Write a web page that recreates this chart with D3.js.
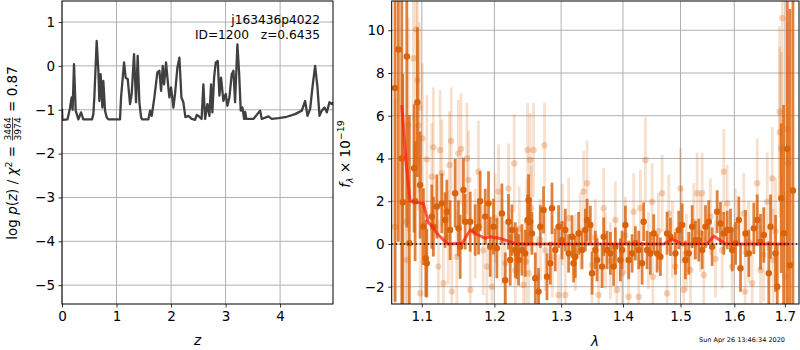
<!DOCTYPE html>
<html>
<head>
<meta charset="utf-8">
<script src="https://cdn.jsdelivr.net/npm/d3@7"></script>
<style>
  body { margin: 0; background: #fff; }
  svg text { font-family: "DejaVu Sans", sans-serif; }
</style>
</head>
<body>
<svg id="fig" width="800" height="350"></svg>
<script>
// ---- p(z) curve ----
var zGrid = [0.000, 0.008, 0.024, 0.100, 0.147, 0.177, 0.195, 0.220, 0.251, 0.300, 0.349, 0.391, 0.550, 0.575, 0.593, 0.636, 0.667, 0.685, 0.709, 0.740, 0.758, 0.789, 0.819, 0.850,
  1.064, 1.083, 1.138, 1.168, 1.205, 1.248, 1.278, 1.321, 1.358, 1.388, 1.419, 1.450, 1.470, 1.584, 1.615, 1.645, 1.694, 1.749, 1.786, 1.817, 1.847, 1.872, 1.908, 1.939, 1.969,
  2.000, 2.043, 2.073, 2.116, 2.153, 2.190, 2.226, 2.263, 2.318, 2.379, 2.440, 2.470, 2.502, 2.560, 2.593, 2.624, 2.667, 2.703, 2.734, 2.758, 2.789, 2.820, 2.856, 2.887, 2.917, 2.960,
  3.003, 3.034, 3.070, 3.113, 3.144, 3.174, 3.217, 3.248, 3.278, 3.309, 3.339, 3.360, 3.380, 3.419, 3.511, 3.633, 3.664, 3.785, 3.847, 3.969,
  4.122, 4.275, 4.398, 4.459, 4.502, 4.551, 4.593, 4.642, 4.685, 4.722, 4.765, 4.814, 4.856, 4.905, 4.948, 4.985];
var logPz = [-0.98, -1.22, -1.23, -1.22, -0.96, -0.72, -1.00, 0.04, -1.02, -1.22, -1.06, -1.22, -1.22, -1.10, -0.72, 0.57, -0.11, -0.80, -0.19, -0.95, -0.34, -1.02, -1.17, -1.22,
  -1.22, -0.72, 0.08, -0.27, -0.30, -0.87, -0.64, 0.27, -0.83, 0.23, -0.83, -1.17, -1.22, -1.22, -1.02, -1.14, -0.72, -0.15, -0.11, -0.57, 0.00, -0.42, 0.08, -0.34, -0.72,
  -0.49, -0.95, -0.64, -0.04, 0.19, -0.72, -0.83, -1.17, -1.14, -1.21, -1.23, -1.12, -1.14, -1.21, -0.42, -1.21, -0.87, -1.14, -0.42, -1.06, -0.27, 0.08, 0.11, -0.68, -0.27, -0.80,
  -0.64, -0.91, -0.72, -0.19, -0.11, -0.83, 0.49, -0.15, -1.02, -0.95, -1.21, -1.05, -1.21, -1.21, -1.21, -1.02, -1.21, -1.15, -1.21, -1.19,
  -1.16, -1.10, -1.02, -0.80, -1.14, -0.98, -0.49, 0.00, -0.49, -1.14, -1.02, -0.95, -1.06, -0.83, -0.87, -0.83];
var zTicks = [0, 1, 2, 3, 4];
var pzTicks = [-5, -4, -3, -2, -1, 0, 1];

// ---- spectrum, first (dark) set ----
var darkLam = [1.0653, 1.0695, 1.0739, 1.0752, 1.0804, 1.0837, 1.0899, 1.0912, 1.0942, 1.0978,
  1.1021, 1.1053, 1.1066, 1.1133, 1.1154, 1.1200, 1.1267, 1.1312, 1.1335, 1.1380,
  1.1449, 1.1494, 1.1518, 1.1563, 1.1587, 1.1657, 1.1727, 1.1774, 1.1797, 1.1869,
  1.1916, 1.1940, 1.1987, 1.2036, 1.2109, 1.2157, 1.2205, 1.2230, 1.2255, 1.2304,
  1.2329, 1.2353, 1.2403, 1.2452, 1.2487, 1.2502, 1.2527, 1.2553, 1.2603, 1.2653,
  1.2679, 1.2729, 1.2781, 1.2832, 1.2858, 1.2909, 1.2960, 1.3013, 1.3065, 1.3117,
  1.3170, 1.3195, 1.3223, 1.3275, 1.3330, 1.3383, 1.3410, 1.3463, 1.3491, 1.3544,
  1.3572, 1.3654, 1.3680, 1.3736, 1.3791, 1.3845, 1.3873, 1.3957, 1.3985, 1.4041,
  1.4096, 1.4154, 1.4210, 1.4267, 1.4325, 1.4352, 1.4411, 1.4468, 1.4526, 1.4585,
  1.4643, 1.4761, 1.4820, 1.4909, 1.4968, 1.5030, 1.5089, 1.5149, 1.5211, 1.5271,
  1.5332, 1.5395, 1.5456, 1.5517, 1.5580, 1.5674, 1.5736, 1.5799, 1.5864, 1.5927,
  1.5959, 1.6023, 1.6086, 1.6119, 1.6216, 1.6281, 1.6378, 1.6445, 1.6510, 1.6576,
  1.6675, 1.6710, 1.6810, 1.6845, 1.6926, 1.6973, 1.7049, 1.7102, 1.7165];
var darkFlux = [7.3, 9.1, 4.0, 1.95, 8.77, 0.03, 3.54, 2.0, 6.63, 2.76,
  0.81, -0.67, -0.9, 1.28, 0.81, 1.75, 1.9, 1.12, 1.51, 0.65,
  2.37, 0.73, -0.13, 2.53, 1.04, 1.04, 0.65, 0.81, 2.0, 1.28,
  1.9, -0.13, 0.81, -0.2, 1.43, -1.7, 1.04, -0.75, 0.65, -0.28,
  -0.44, -0.75, -0.28, -0.44, 1.12, 2.06, 1.04, 0.49, -1.6, -2.23,
  0.81, 1.59, -1.53, -0.9, 1.67, -0.28, 0.81, 0.18, 0.65, -0.44,
  0.34, -0.9, -0.6, 0.49, -0.28, 0.65, 1.12, 0.89, -1.37, -0.28,
  -0.75, -1.06, 0.34, -0.28, -0.44, -1.06, -0.13, -0.75, -0.28, 0.89,
  -0.75, -0.44, 0.03, -0.28, -0.9, 1.04, -0.28, -0.44, 0.49, -0.44,
  -0.6, 0.49, 0.34, -0.44, 0.65, 0.89, -0.75, -0.44, 0.81, 0.18,
  0.18, -0.28, 0.81, 1.04, -0.13, 1.51, 0.96, 0.49, 0.65, 0.65,
  -0.28, 0.03, 1.12, -1.14, 0.49, -0.44, 0.73, 1.12, 0.1, 0.42,
  -1.37, 0.81, -0.44, -2.0, 2.14, 0.5, 4.45, -1.0, 2.5];
var darkErr = [10, 9, 8, 6, 8, 6, 3.0, 2.8, 3.5, 2.5,
  1.8, 1.8, 1.6, 1.5, 1.4, 1.5, 1.4, 1.3, 1.5, 1.4,
  1.6, 1.3, 1.5, 1.5, 1.3, 1.4, 1.2, 1.3, 1.4, 1.3,
  1.5, 1.4, 1.3, 1.4, 1.4, 1.3, 1.3, 1.2, 1.2, 1.3,
  1.2, 1.2, 1.2, 1.1, 1.2, 1.2, 1.1, 1.0, 1.2, 1.1,
  1.0, 1.1, 1.1, 1.0, 1.2, 1.0, 1.0, 0.9, 1.0, 0.9,
  1.0, 0.9, 1.0, 1.0, 0.9, 1.0, 1.0, 0.9, 1.0, 0.9,
  1.0, 1.0, 0.9, 0.9, 1.0, 0.9, 0.9, 1.0, 0.9, 0.9,
  0.9, 0.9, 0.8, 0.9, 1.0, 0.9, 0.9, 1.0, 0.9, 0.9,
  0.9, 1.0, 0.9, 1.0, 0.9, 1.0, 0.9, 1.0, 1.0, 0.9,
  1.0, 0.9, 1.0, 1.0, 0.9, 1.0, 1.0, 1.0, 0.9, 1.0,
  1.0, 1.0, 1.1, 1.1, 1.1, 1.1, 1.2, 1.2, 1.3, 1.3,
  1.5, 1.5, 1.8, 2.0, 3.5, 6, 12, 12, 14];

// ---- spectrum, second (light) set ----
var lightLam = [1.0653, 1.0795, 1.0804, 1.0824, 1.0890, 1.0925, 1.0942, 1.0955, 1.0968, 1.0978,
  1.1008, 1.1066, 1.1133, 1.1154, 1.1221, 1.1244, 1.1267, 1.1289, 1.1353, 1.1371,
  1.1394, 1.1403, 1.1472, 1.1494, 1.1531, 1.1611, 1.1633, 1.1657, 1.1727, 1.1773,
  1.1840, 1.1893, 1.1964, 1.2012, 1.2060, 1.2113, 1.2157, 1.2205, 1.2289, 1.2304,
  1.2363, 1.2427, 1.2460, 1.2478, 1.2487, 1.2502, 1.2527, 1.2542, 1.2577, 1.2628,
  1.2679, 1.2744, 1.2755, 1.2863, 1.2960, 1.3018, 1.3065, 1.3117, 1.3223, 1.3302,
  1.3355, 1.3410, 1.3490, 1.3544, 1.3598, 1.3680, 1.3707, 1.3790, 1.3873, 1.3898,
  1.3985, 1.4041, 1.4096, 1.4181, 1.4267, 1.4296, 1.4382, 1.4434, 1.4498, 1.4512,
  1.4608, 1.4673, 1.4761, 1.4790, 1.4856, 1.4909, 1.4999, 1.5017, 1.5058, 1.5107,
  1.5180, 1.5240, 1.5303, 1.5363, 1.5395, 1.5424, 1.5549, 1.5643, 1.5769, 1.5799,
  1.5864, 1.5959, 1.6023, 1.6183, 1.6207, 1.6275, 1.6347, 1.6446, 1.6511, 1.6570,
  1.6644, 1.6744, 1.6761, 1.6811, 1.6892, 1.6898, 1.6926, 1.6947, 1.7024, 1.7049, 1.7065];
var lightFlux = [0.81, 1.05, -0.75, 5.57, 8.69, 10.05, 7.67, 5.55, 6.38, -2.31,
  4.94, 3.96, 3.15, 4.52, -1.06, 4.40, 3.31, -1.84, 0.30, 3.70,
  4.82, -2.23, -0.60, 4.24, 4.45, 4.00, 3.00, -2.15, 0.50, 3.38,
  -0.30, -1.06, -2.00, 1.20, 2.45, 0.10, -0.90, 2.60, 3.77, -1.22,
  0.70, -1.92, -0.83, 1.05, 4.40, -1.37, 3.93, 1.67, 4.40, -1.53,
  0.20, 4.62, -0.29, -0.60, -2.39, 0.90, -2.39, 1.20, -0.40, 0.60,
  2.45, 2.84, -0.99, 0.30, -2.39, 1.67, -0.29, -0.80, 1.12, -2.15,
  -1.37, 0.40, -2.47, 1.51, -2.47, 1.67, 3.93, -0.30, 1.98, -1.53,
  0.60, 2.37, -2.31, 1.43, 0.20, -1.06, 2.60, 0.89, -2.15, -0.40,
  -1.22, 1.04, 2.37, 0.50, 2.37, -1.45, 1.28, -0.70, -0.29, 3.38,
  1.90, -1.06, 0.80, 1.43, -2.23, 0.10, -1.84, 2.84, -1.22, -0.50,
  1.98, 3.07, -0.75, 0.60, 6.19, 5.23, 4.48, 10.56, -1.53, 5.37, 3.78];
var lightErr = [6, 5, 5, 5, 5, 6, 4, 4, 4, 3,
  3.5, 3, 2.5, 2.8, 2.2, 2.8, 2.5, 2.2, 2.2, 2.5,
  2.5, 2.2, 2.2, 2.5, 2.6, 2.6, 2.3, 2.2, 2.1, 2.4,
  2.1, 2.1, 2.1, 2.1, 2.2, 2.0, 2.0, 2.1, 2.3, 2.0,
  2.0, 2.0, 2.0, 2.0, 2.2, 2.0, 2.2, 2.0, 2.2, 1.9,
  1.9, 2.0, 1.9, 1.9, 1.9, 1.9, 1.9, 1.9, 1.8, 1.8,
  1.9, 2.0, 1.8, 1.8, 1.9, 1.9, 1.8, 1.8, 1.8, 1.8,
  1.8, 1.8, 1.8, 1.8, 1.8, 1.8, 2.0, 1.8, 1.8, 1.8,
  1.8, 1.8, 1.8, 1.8, 1.8, 1.8, 1.9, 1.8, 1.8, 1.8,
  1.8, 1.8, 1.9, 1.8, 1.9, 1.8, 1.8, 1.8, 1.8, 2.0,
  1.8, 1.8, 1.8, 1.9, 1.9, 1.9, 2.0, 2.1, 2.1, 2.2,
  2.3, 2.4, 2.4, 2.5, 4, 4, 4.5, 5, 4, 5, 5];

// ---- best-fit model ----
var modelLam = [1.0738, 1.0752, 1.0791, 1.0847, 1.1000, 1.1021, 1.1087, 1.1133, 1.1200, 1.1312, 1.1353, 1.1545, 1.1657,
  1.1727, 1.1869, 1.1940, 1.2084, 1.2230, 1.2304, 1.4700, 1.4850, 1.5030, 1.5487, 1.5610, 1.5830, 1.7080];
var modelFlux = [6.5, 5.96, 3.9, 2.0, 1.9, 1.9, 1.0, 0.85, 0.5, 0.11, 0.0, 0.03, 0.65,
  0.49, 0.26, 0.34, 0.26, 0.1, 0.0, 0.0, 0.22, 0.0, 0.0, 0.37, 0.0, 0.0];
var lamTicks = [1.1, 1.2, 1.3, 1.4, 1.5, 1.6, 1.7];
var fluxTicks = [-2, 0, 2, 4, 6, 8, 10];

var fs = 13.5;
var orange = "#d9620a";
var svg = d3.select("#fig");

// ================= left panel =================
var L = {left: 62, right: 333, top: 1, bottom: 304};
var zScale = d3.scaleLinear().domain([0, 4.97]).range([L.left, L.right]);
var pScale = d3.scaleLinear().domain([-5.43, 1.48]).range([L.bottom, L.top]);

svg.append("defs").append("clipPath").attr("id", "clipL")
  .append("rect").attr("x", L.left).attr("y", L.top)
  .attr("width", L.right - L.left).attr("height", L.bottom - L.top);

var gridL = svg.append("g").attr("stroke", "#b0b0b0").attr("stroke-width", 1);
gridL.selectAll(".gx").data(zTicks).enter().append("line")
  .attr("x1", d => zScale(d)).attr("x2", d => zScale(d))
  .attr("y1", L.top).attr("y2", L.bottom);
gridL.selectAll(".gy").data(pzTicks).enter().append("line")
  .attr("x1", L.left).attr("x2", L.right)
  .attr("y1", d => pScale(d)).attr("y2", d => pScale(d));

var pzLine = d3.line().x(d => zScale(d[0])).y(d => pScale(d[1]));
svg.append("path")
  .datum(d3.zip(zGrid, logPz))
  .attr("clip-path", "url(#clipL)")
  .attr("fill", "none")
  .attr("stroke", "#404040")
  .attr("stroke-width", 2.3)
  .attr("stroke-linejoin", "round")
  .attr("d", pzLine);

function styleAxis(g) {
  g.select(".domain").remove();
  g.attr("font-size", fs).attr("font-family", "DejaVu Sans");
  g.selectAll(".tick line").attr("stroke", "#000").attr("stroke-width", 0.8);
  g.selectAll(".tick text").attr("fill", "#000");
}

svg.append("g")
  .attr("transform", "translate(0," + L.bottom + ")")
  .call(d3.axisBottom(zScale).tickValues(zTicks).tickSize(3.5).tickPadding(3.5).tickFormat(d3.format("d")))
  .call(styleAxis);
svg.append("g")
  .attr("transform", "translate(" + L.left + ",0)")
  .call(d3.axisLeft(pScale).tickValues(pzTicks).tickSize(3.5).tickPadding(3.5).tickFormat(d3.format("d")))
  .call(styleAxis);

svg.append("rect")
  .attr("x", L.left).attr("y", L.top)
  .attr("width", L.right - L.left).attr("height", L.bottom - L.top)
  .attr("fill", "none").attr("stroke", "#000").attr("stroke-width", 1);

// annotation
svg.append("text").attr("x", 320).attr("y", 24).attr("text-anchor", "end")
  .attr("font-size", 12.2).text("j163436p4022");
svg.append("text").attr("x", 320).attr("y", 39).attr("text-anchor", "end")
  .attr("font-size", 12.2).style("white-space", "pre").text("ID=1200   z=0.6435");

// x label
svg.append("text").attr("x", zScale(2.485)).attr("y", 345).attr("text-anchor", "middle")
  .attr("font-size", fs).attr("font-style", "italic").text("z");

// y label with stacked fraction
var ylab = svg.append("g").attr("transform", "translate(17,153) rotate(-90)");
var inner = ylab.append("g");
var t1 = inner.append("text").attr("font-size", fs);
t1.append("tspan").text("log ");
t1.append("tspan").attr("font-style", "italic").text("p");
t1.append("tspan").text("(");
t1.append("tspan").attr("font-style", "italic").text("z");
t1.append("tspan").text(") / ");
t1.append("tspan").attr("font-style", "italic").text("χ");
t1.append("tspan").attr("font-size", fs * 0.7).attr("dy", -5.5).text("2");
t1.append("tspan").attr("dy", 5.5).style("white-space", "pre").text(" = ");
var w1 = t1.node().getComputedTextLength();
var num = inner.append("text").attr("font-size", fs * 0.68).attr("y", -5.8).text("3464");
var den = inner.append("text").attr("font-size", fs * 0.68).attr("y", 3.6).text("3974");
var fw = Math.max(num.node().getComputedTextLength(), den.node().getComputedTextLength());
num.attr("x", w1 + 1);
den.attr("x", w1 + 1);
inner.append("line").attr("x1", w1 + 1).attr("x2", w1 + 1 + fw)
  .attr("y1", -4.4).attr("y2", -4.4).attr("stroke", "#000").attr("stroke-width", 0.8);
var t3 = inner.append("text").attr("font-size", fs).attr("x", w1 + fw + 2)
  .style("white-space", "pre").text(" = 0.87");
var total = w1 + fw + 2 + t3.node().getComputedTextLength();
inner.attr("transform", "translate(" + (-total / 2) + ",0)");

// ================= right panel =================
var R = {left: 391.7, right: 799, top: 1, bottom: 304};
var lamScale = d3.scaleLog().domain([1.061, 1.729]).range([R.left, R.right]);
var fScale = d3.scaleLinear().domain([-2.81, 11.37]).range([R.bottom, R.top]);

svg.select("defs").append("clipPath").attr("id", "clipR")
  .append("rect").attr("x", R.left).attr("y", R.top)
  .attr("width", R.right - R.left).attr("height", R.bottom - R.top);

var gridR = svg.append("g").attr("stroke", "#b0b0b0").attr("stroke-width", 1);
gridR.selectAll(".gx").data(lamTicks).enter().append("line")
  .attr("x1", d => lamScale(d)).attr("x2", d => lamScale(d))
  .attr("y1", R.top).attr("y2", R.bottom);
gridR.selectAll(".gy").data(fluxTicks).enter().append("line")
  .attr("x1", R.left).attr("x2", R.right)
  .attr("y1", d => fScale(d)).attr("y2", d => fScale(d));

var plotR = svg.append("g").attr("clip-path", "url(#clipR)");

function drawSeries(lam, flux, err, barAlpha, dotAlpha) {
  var pts = d3.zip(lam, flux, err);
  var g = plotR.append("g");
  g.selectAll("line").data(pts).enter().append("line")
    .attr("x1", d => lamScale(d[0])).attr("x2", d => lamScale(d[0]))
    .attr("y1", d => fScale(d[1] - d[2])).attr("y2", d => fScale(d[1] + d[2]))
    .attr("stroke", orange).attr("stroke-opacity", barAlpha).attr("stroke-width", 2.8);
  g.selectAll("circle").data(pts).enter().append("circle")
    .attr("cx", d => lamScale(d[0])).attr("cy", d => fScale(d[1]))
    .attr("r", 3.2)
    .attr("fill", orange).attr("fill-opacity", dotAlpha);
}
drawSeries(lightLam, lightFlux, lightErr, 0.2, 0.28);
drawSeries(darkLam, darkFlux, darkErr, 0.8, 1);

var modelLine = d3.line().x(d => lamScale(d[0])).y(d => fScale(d[1]));
plotR.append("path")
  .datum(d3.zip(modelLam, modelFlux))
  .attr("fill", "none")
  .attr("stroke", "#ff1a0a")
  .attr("stroke-opacity", 0.7)
  .attr("stroke-width", 3)
  .attr("stroke-linejoin", "round")
  .attr("d", modelLine);

// zero line
plotR.append("line")
  .attr("x1", R.left).attr("x2", R.right)
  .attr("y1", fScale(0)).attr("y2", fScale(0))
  .attr("stroke", "#000").attr("stroke-width", 1.5)
  .attr("stroke-dasharray", "1.5,2.5");

svg.append("g")
  .attr("transform", "translate(0," + R.bottom + ")")
  .call(d3.axisBottom(lamScale).tickValues(lamTicks).tickSize(3.5).tickPadding(3.5).tickFormat(d3.format(".1f")))
  .call(styleAxis);
svg.append("g")
  .attr("transform", "translate(" + R.left + ",0)")
  .call(d3.axisLeft(fScale).tickValues(fluxTicks).tickSize(3.5).tickPadding(3.5).tickFormat(d3.format("d")))
  .call(styleAxis);

svg.append("rect")
  .attr("x", R.left).attr("y", R.top)
  .attr("width", R.right - R.left).attr("height", R.bottom - R.top)
  .attr("fill", "none").attr("stroke", "#000").attr("stroke-width", 1);

// x label
svg.append("text").attr("x", 595).attr("y", 346).attr("text-anchor", "middle")
  .attr("font-size", fs).attr("font-style", "italic").text("λ");

// y label
var flab = svg.append("text").attr("font-size", fs).attr("text-anchor", "middle")
  .attr("transform", "translate(350,154) rotate(-90)");
flab.append("tspan").attr("font-style", "italic").text("f");
flab.append("tspan").attr("font-style", "italic").attr("font-size", fs * 0.7).attr("dy", 3).text("λ");
flab.append("tspan").attr("dy", -3).style("white-space", "pre").text(" × 10");
flab.append("tspan").attr("font-size", fs * 0.7).attr("dy", -6).text("−19");

// timestamp
svg.append("text").attr("x", 742).attr("y", 342).attr("text-anchor", "middle")
  .attr("font-size", 6.5).text("Sun Apr 26 13:46:34 2020");
</script>
</body>
</html>
